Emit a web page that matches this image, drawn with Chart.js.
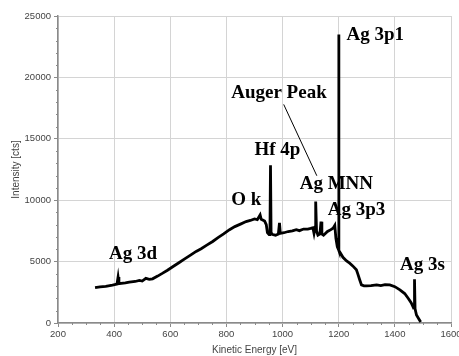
<!DOCTYPE html>
<html>
<head>
<meta charset="utf-8">
<script src="https://cdn.jsdelivr.net/npm/chart.js@4/dist/chart.umd.min.js"></script>
<style>
  html, body { margin: 0; padding: 0; background: #fff; }
  canvas { display: block; }
</style>
</head>
<body>
<canvas id="xps" width="459" height="356"></canvas>
<script>
// XPS survey spectrum — kinetic energy vs intensity

const ENERGY = [
    332, 350, 370, 394, 410, 414, 417, 440, 454, 475, 490, 500, 513, 525, 537,
    555, 573, 590, 610, 632, 650, 672, 692, 710, 730, 751, 770, 790, 811, 830,
    850, 870, 885, 900, 910, 920, 924, 936, 942, 946, 952, 955, 957, 959, 965,
    975, 985, 989, 992, 1005, 1020, 1035, 1049, 1060, 1075, 1090, 1100, 1108, 1112, 1116,
    1118, 1121, 1126, 1133, 1137, 1140, 1146, 1160, 1172, 1180, 1186, 1190, 1195, 1199, 1200,
    1201, 1206, 1215, 1228, 1239, 1250, 1263, 1268, 1275, 1281, 1290, 1299, 1315, 1335, 1350,
    1365, 1382, 1400, 1418, 1435, 1448, 1458, 1466, 1469, 1470, 1472, 1477, 1485, 1492,
];
const COUNTS = [
    2880, 2950, 2990, 3080, 3160, 3740, 3200, 3260, 3330, 3380, 3470, 3420, 3640, 3560, 3600,
    3820, 4060, 4300, 4600, 4930, 5200, 5530, 5830, 6050, 6340, 6640, 6950, 7250, 7600, 7850,
    8050, 8260, 8350, 8480, 8420, 8800, 8450, 8300, 8000, 7350, 7200, 7250, 12850, 7350, 7200,
    7150, 7250, 8150, 7300, 7350, 7450, 7500, 7600, 7520, 7650, 7650, 7700, 7750, 7300, 7800,
    9900, 7500, 7150, 7250, 8250, 7250, 7150, 7450, 7600, 7720, 7950, 6900, 6200, 6000, 23500,
    5900, 5700, 5350, 5050, 4870, 4650, 4330, 4000, 3500, 3100, 3030, 3020, 3050, 3100, 3050,
    3120, 3100, 2960, 2700, 2400, 2000, 1650, 1250, 1300, 3560, 1150, 650, 350, 80,
];

const X_TICKS = [200, 400, 600, 800, 1000, 1200, 1400, 1600];
const Y_TICKS = [0, 5000, 10000, 15000, 20000, 25000];

// peak names and where their text sits (eV, cts at baseline-left)
const PEAK_NAMES = ['Ag 3d', 'O k', 'Hf 4p', 'Auger Peak', 'Ag MNN', 'Ag 3p3', 'Ag 3p1', 'Ag 3s'];
const PEAK_TEXT_EV = [382, 817, 900, 817, 1061, 1161, 1228, 1418];
const PEAK_TEXT_CTS = [5220, 9620, 13700, 18350, 10930, 8810, 23080, 4320];
const AUGER_LEADER_EV = [1004, 1122];
const AUGER_LEADER_CTS = [17800, 11990];

const GRID = '#d4d4d4';
const AXIS = '#8a8a8a';
const TEXT = '#444';

const peakLabels = {
    id: 'peakLabels',
    afterDatasetsDraw(chart) {
        const { ctx, scales: { x, y } } = chart;
        ctx.save();
        ctx.fillStyle = '#000';
        ctx.font = 'bold 19px "Liberation Serif", serif';
        ctx.textBaseline = 'alphabetic';
        PEAK_NAMES.forEach((name, i) => {
            ctx.fillText(name, x.getPixelForValue(PEAK_TEXT_EV[i]), y.getPixelForValue(PEAK_TEXT_CTS[i]));
        });
        ctx.strokeStyle = '#000';
        ctx.lineWidth = 1;
        ctx.beginPath();
        ctx.moveTo(x.getPixelForValue(AUGER_LEADER_EV[0]), y.getPixelForValue(AUGER_LEADER_CTS[0]));
        ctx.lineTo(x.getPixelForValue(AUGER_LEADER_EV[1]), y.getPixelForValue(AUGER_LEADER_CTS[1]));
        ctx.stroke();
        ctx.restore();
    }
};

// small minor ticks between the labelled ones
const minorTicks = {
    id: 'minorTicks',
    afterDraw(chart) {
        const { ctx, scales: { x, y }, chartArea } = chart;
        ctx.save();
        ctx.strokeStyle = AXIS;
        ctx.lineWidth = 1;
        ctx.beginPath();
        for (let v = 250; v < 1600; v += 50) {
            if (v % 200 === 0) continue;
            const px = Math.round(x.getPixelForValue(v)) + 0.5;
            ctx.moveTo(px, chartArea.bottom);
            ctx.lineTo(px, chartArea.bottom + 2);
        }
        for (let v = 1000; v < 25000; v += 1000) {
            if (v % 5000 === 0) continue;
            const py = Math.round(y.getPixelForValue(v)) + 0.5;
            ctx.moveTo(chartArea.left, py);
            ctx.lineTo(chartArea.left - 2, py);
        }
        ctx.stroke();
        ctx.restore();
    }
};

new Chart(document.getElementById('xps').getContext('2d'), {
    type: 'scatter',
    data: {
        datasets: [{
            data: ENERGY.map((e, i) => ({ x: e, y: COUNTS[i] })),
            showLine: true,
            borderColor: '#000',
            borderWidth: 2.8,
            pointRadius: 0,
            tension: 0,
        }]
    },
    options: {
        responsive: false,
        animation: false,
        layout: { padding: { left: 0, right: 8, top: 16, bottom: 0 } },
        plugins: {
            legend: { display: false },
            tooltip: { enabled: false },
        },
        scales: {
            x: {
                type: 'linear',
                min: 200,
                max: 1600,
                afterBuildTicks: s => { s.ticks = X_TICKS.map(v => ({ value: v })); },
                afterFit: s => { s.height = 33; s.paddingLeft = 0; s.paddingRight = 0; },
                ticks: {
                    color: TEXT,
                    padding: 2,
                    maxRotation: 0,
                    autoSkip: false,
                    callback: v => String(v),
                    font: { family: '"Liberation Sans", sans-serif', size: 9.5 },
                },
                grid: { color: GRID, lineWidth: 1, tickColor: AXIS, tickLength: 4 },
                border: { color: AXIS, width: 1.5 },
                title: {
                    display: true,
                    text: 'Kinetic Energy [eV]',
                    color: TEXT,
                    padding: { top: 0, bottom: 0 },
                    font: { family: '"Liberation Sans", sans-serif', size: 10 },
                },
            },
            y: {
                type: 'linear',
                min: 0,
                max: 25000,
                afterBuildTicks: s => { s.ticks = Y_TICKS.map(v => ({ value: v })); },
                afterFit: s => { s.width = 58; s.paddingTop = 0; s.paddingBottom = 0; },
                ticks: {
                    color: TEXT,
                    padding: 3,
                    autoSkip: false,
                    callback: v => String(v),
                    font: { family: '"Liberation Sans", sans-serif', size: 9.5 },
                },
                grid: { color: GRID, lineWidth: 1, tickColor: AXIS, tickLength: 4 },
                border: { color: AXIS, width: 1.5 },
                title: {
                    display: true,
                    text: 'Intensity [cts]',
                    color: TEXT,
                    padding: { top: 10, bottom: 0 },
                    font: { family: '"Liberation Sans", sans-serif', size: 10 },
                },
            },
        },
    },
    plugins: [peakLabels, minorTicks],
});
</script>
</body>
</html>
